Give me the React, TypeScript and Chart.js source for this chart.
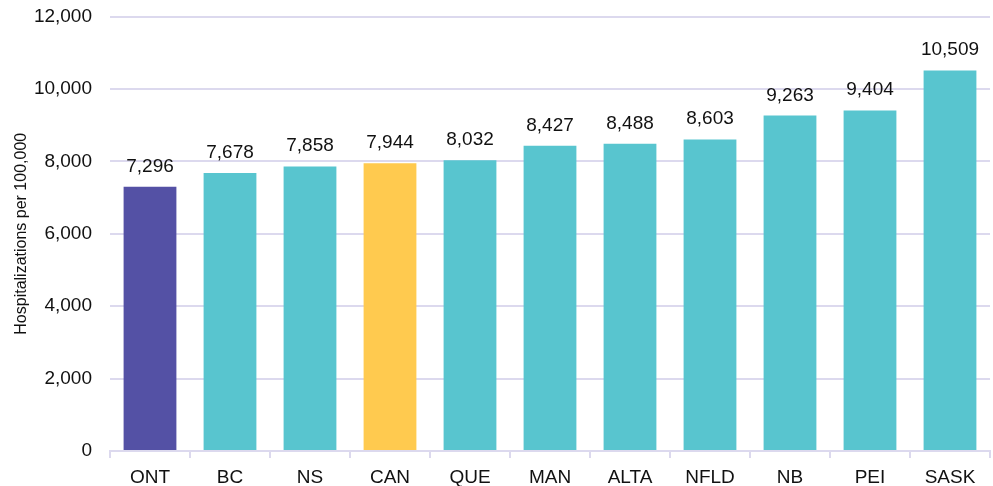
import React, { useEffect, useRef } from "react";
import { Chart, registerables } from "chart.js";

Chart.register(...registerables);

const categories = ["ONT", "BC", "NS", "CAN", "QUE", "MAN", "ALTA", "NFLD", "NB", "PEI", "SASK"];
const values = [7296, 7678, 7858, 7944, 8032, 8427, 8488, 8603, 9263, 9404, 10509];
const barColors = ["#5451A5", "#58C5CF", "#58C5CF", "#FFCA4F", "#58C5CF", "#58C5CF", "#58C5CF", "#58C5CF", "#58C5CF", "#58C5CF", "#58C5CF"];
const yTitle = "Hospitalizations per 100,000";

const FONT = "'Liberation Sans', Arial, sans-serif";

const labelPlugin = {
  id: "barLabels",
  afterDatasetsDraw(chart: any) {
    const ctx = chart.ctx;
    const meta = chart.getDatasetMeta(0);
    ctx.save();
    ctx.font = `19px ${FONT}`;
    ctx.fillStyle = "#111111";
    ctx.textAlign = "center";
    ctx.textBaseline = "alphabetic";
    meta.data.forEach((bar: any, i: number) => {
      ctx.fillText(values[i].toLocaleString("en-US"), bar.x, bar.y - 15);
    });
    ctx.restore();
  },
};

export default function App() {
  const ref = useRef<HTMLCanvasElement>(null);
  useEffect(() => {
    const chart = new Chart(ref.current!, {
      type: "bar",
      data: {
        labels: categories,
        datasets: [
          {
            data: values,
            backgroundColor: barColors,
            barPercentage: 0.66,
            categoryPercentage: 1,
          },
        ],
      },
      options: {
        animation: false,
        responsive: true,
        maintainAspectRatio: false,
        layout: { autoPadding: false, padding: { top: 16.5, right: 3, left: 0, bottom: 0 } },
        plugins: { legend: { display: false }, tooltip: { enabled: false } },
        scales: {
          x: {
            grid: { display: true, drawOnChartArea: false, color: "#DCD9EE", tickLength: 7, lineWidth: 2 },
            border: { display: true, color: "#DCD9EE", width: 2 },
            ticks: { color: "#111111", font: { family: FONT, size: 19 }, padding: 8 },
            afterFit: (s: any) => { s.height = 35; },
          },
          y: {
            min: 0,
            max: 12000,
            grid: { color: "#DCD9EE", lineWidth: 2, tickLength: 0, drawTicks: false },
            border: { display: false },
            ticks: {
              stepSize: 2000,
              color: "#111111",
              font: { family: FONT, size: 19 },
              padding: 18,
              callback: (v: any) => Number(v).toLocaleString("en-US"),
            },
            title: { display: true, text: yTitle, color: "#111111", font: { family: FONT, size: 16 }, padding: { top: 12, bottom: 0 } },
            afterFit: (s: any) => {
              s.width = 110;
              s.paddingTop = 0;
              s.paddingBottom = 0;
            },
          },
        },
      },
      plugins: [labelPlugin],
    });
    return () => chart.destroy();
  }, []);
  return (
    <div style={{ position: "absolute", left: 0, top: 0, width: 993, height: 486, background: "#fff" }}>
      <canvas ref={ref} />
    </div>
  );
}
